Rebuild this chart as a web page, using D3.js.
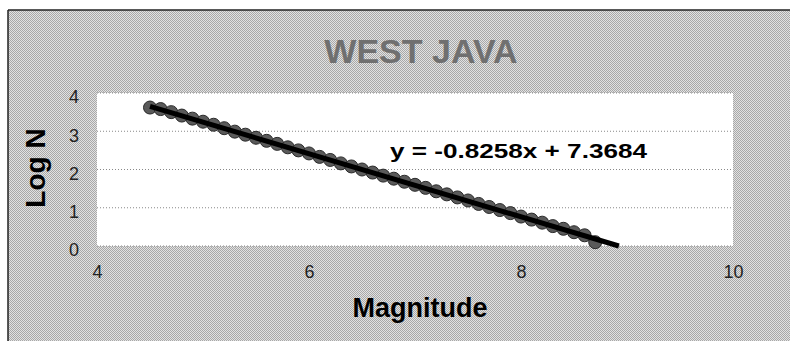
<!DOCTYPE html>
<html><head><meta charset="utf-8">
<script src="https://cdn.jsdelivr.net/npm/d3@7"></script>
<style>html,body{margin:0;padding:0;background:#fff;}svg{display:block;}</style>
</head><body>
<div id="chart"></div>
<script>
const magnitudes = [4.5,4.6,4.7,4.8,4.9,5.0,5.1,5.2,5.3,5.4,5.5,5.6,5.7,5.8,5.9,6.0,6.1,6.2,6.3,6.4,6.5,6.6,6.7,6.8,6.9,7.0,7.1,7.2,7.3,7.4,7.5,7.6,7.7,7.8,7.9,8.0,8.1,8.2,8.3,8.4,8.5,8.6,8.7];
const logN = [3.62,3.58,3.50,3.41,3.33,3.25,3.17,3.08,2.99,2.91,2.83,2.75,2.67,2.58,2.50,2.42,2.33,2.25,2.16,2.08,2.00,1.92,1.84,1.76,1.68,1.60,1.52,1.43,1.35,1.27,1.19,1.10,1.02,0.94,0.86,0.77,0.69,0.61,0.52,0.45,0.36,0.28,0.10];
const xTicks = [4,6,8,10];
const yTicks = [0,1,2,3,4];
const slope = -0.8258, intercept = 7.3684;
const trendX = [4.5, 8.923];
const titleText = "WEST JAVA";
const xTitle = "Magnitude";
const yTitle = "Log N";
const eqText = "y = -0.8258x + 7.3684";

const W = 790, H = 341;
const m = {left: 97, right: 57, top: 93, bottom: 95};
const svg = d3.select("#chart").append("svg").attr("width", W).attr("height", H);

const defs = svg.append("defs");
const pat = defs.append("pattern").attr("id","dither").attr("patternUnits","userSpaceOnUse").attr("width",2).attr("height",2);
pat.append("rect").attr("width",2).attr("height",2).attr("fill","#e2e2e2");
pat.append("rect").attr("x",0).attr("y",0).attr("width",1).attr("height",1).attr("fill","#a8a8a8");
pat.append("rect").attr("x",1).attr("y",1).attr("width",1).attr("height",1).attr("fill","#a8a8a8");

svg.append("rect").attr("width",W).attr("height",H).attr("fill","#fff");
svg.append("rect").attr("x",8).attr("y",10).attr("width",W-8).attr("height",H-10).attr("fill","url(#dither)");
svg.append("line").attr("x1",8).attr("x2",W).attr("y1",10).attr("y2",10).attr("stroke","#222").attr("stroke-width",1.5);
svg.append("line").attr("x1",8).attr("x2",8).attr("y1",10).attr("y2",H).attr("stroke","#222").attr("stroke-width",1.5);

const x = d3.scaleLinear().domain([4,10]).range([m.left, W - m.right]);
const y = d3.scaleLinear().domain([0,4]).range([H - m.bottom, m.top]);

svg.append("rect").attr("x",x(4)).attr("y",y(4)).attr("width",x(10)-x(4)).attr("height",y(0)-y(4)).attr("fill","#fff");

svg.append("g").selectAll("line").data(yTicks).join("line")
  .attr("x1",x(4)).attr("x2",x(10)).attr("y1",d=>y(d)).attr("y2",d=>y(d))
  .attr("stroke","#888").attr("stroke-width",1).attr("stroke-dasharray","1,2");

const fontF = "Liberation Sans, Arial, sans-serif";
const yAxis = d3.axisLeft(y).tickValues(yTicks).tickFormat(d3.format("d")).tickSize(0).tickPadding(18);
const ya = svg.append("g").attr("transform",`translate(${x(4)},0)`).call(yAxis);
ya.select(".domain").remove();
ya.selectAll("text").attr("font-family",fontF).attr("font-size",18).attr("fill","#222").attr("dy","0.55em");

const xAxis = d3.axisBottom(x).tickValues(xTicks).tickFormat(d3.format("d")).tickSize(0).tickPadding(19);
const xa = svg.append("g").attr("transform",`translate(0,${y(0)})`).call(xAxis);
xa.select(".domain").remove();
xa.selectAll("text").attr("font-family",fontF).attr("font-size",18).attr("fill","#222");

svg.append("g").selectAll("circle").data(magnitudes).join("circle")
  .attr("cx",d=>x(d)).attr("cy",(d,i)=>y(logN[i])).attr("r",6.5)
  .attr("fill","#5a5a5a").attr("stroke","#2a2a2a").attr("stroke-width",1);

svg.append("path").datum(trendX)
  .attr("d", d3.line().x(d=>x(d)).y(d=>y(slope*d+intercept)))
  .attr("stroke","#000").attr("stroke-width",5).attr("fill","none");

svg.append("text").attr("x",421).attr("y",63).attr("text-anchor","middle")
  .attr("font-family",fontF).attr("font-weight","bold").attr("font-size",34).attr("fill","#707070").text(titleText);

svg.append("text").attr("x",390).attr("y",158)
  .attr("font-family",fontF).attr("font-weight","bold").attr("font-size",21).attr("fill","#000")
  .attr("textLength",257).attr("lengthAdjust","spacingAndGlyphs").text(eqText);

svg.append("text").attr("x",420).attr("y",317).attr("text-anchor","middle")
  .attr("font-family",fontF).attr("font-weight","bold").attr("font-size",27).attr("fill","#000").text(xTitle);
svg.append("text").attr("transform","translate(45,168) rotate(-90)").attr("text-anchor","middle")
  .attr("font-family",fontF).attr("font-weight","bold").attr("font-size",28).attr("fill","#000").text(yTitle);
</script>
</body></html>
